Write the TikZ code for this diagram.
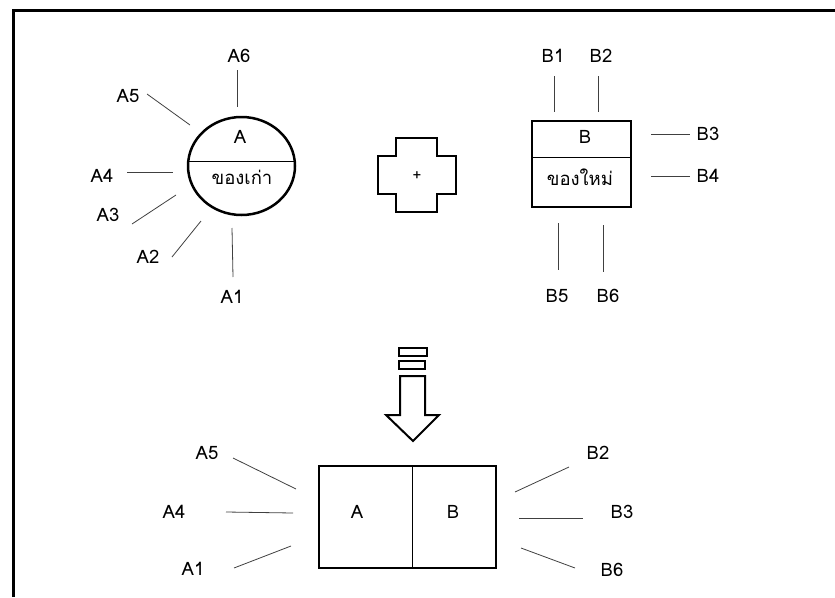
\documentclass[tikz,border=0pt]{standalone}
\usepackage{fontspec}
\setmainfont[Script=Thai]{Loma}
\usetikzlibrary{positioning,shapes.geometric}

\begin{document}
\begin{tikzpicture}[
  x=1pt, y=-1pt,
  lbl/.style={font=\fontsize{18.5}{22}\selectfont, inner sep=0pt},
  spoke/.style={line width=0.8pt, draw=black!75},
  outline/.style={line width=2.5pt},
]
\useasboundingbox (0,0) rectangle (835,597);
% frame
\draw[line width=3pt] (13,597) -- (13,10) -- (835,10);

% old part A
\node[ellipse, draw, outline, minimum width=107pt, minimum height=98pt, inner sep=0pt] (old) at (241.5,166) {};
\draw[spoke, draw=black] (188.5,161) -- (294.5,161);
\node[lbl] (oldname) at (240,137) {A};
\node[lbl] (oldtext) at (242,177) {ของเก่า};
\node[lbl] (a6) at (239,56) {A6};
\node[lbl] (a5) at (128,96) {A5};
\node[lbl] (a4) at (102,176) {A4};
\node[lbl] (a3) at (108,215) {A3};
\node[lbl] (a2) at (148,257) {A2};
\node[lbl] (a1) at (232,297) {A1};
\draw[spoke] (237,70) -- (237,107);
\draw[spoke] (147,94) -- (190,125);
\draw[spoke] (127,172) -- (173,172);
\draw[spoke] (132,224) -- (176,195);
\draw[spoke] (172,257) -- (201,221);
\draw[spoke] (233,277) -- (232,228);

% plus sign
\draw[outline] (396,138) -- (437,138) -- (437,156) -- (456,156) -- (456,194)
  -- (437,194) -- (437,212) -- (396,212) -- (396,194) -- (378,194)
  -- (378,156) -- (396,156) -- cycle;
\node[lbl, font=\fontsize{15}{17}\selectfont] (plus) at (417,176) {+};

% new part B
\node[rectangle, draw, outline, minimum width=99pt, minimum height=86pt, inner sep=0pt] (new) at (581.5,164) {};
\draw[spoke, draw=black] (532,157) -- (631,157);
\node[lbl] (newname) at (585,137) {B};
\node[lbl] (newtext) at (580,177) {ของใหม่};
\node[lbl] (b1) at (553,56) {B1};
\node[lbl] (b2) at (601,56) {B2};
\node[lbl] (b3) at (708,134) {B3};
\node[lbl] (b4) at (708,176) {B4};
\node[lbl] (b5) at (557,296) {B5};
\node[lbl] (b6) at (608,296) {B6};
\draw[spoke] (554,76) -- (554,112);
\draw[spoke] (598,76) -- (598,112);
\draw[spoke] (651,134) -- (690,134);
\draw[spoke] (651,176) -- (690,176);
\draw[spoke] (558,223) -- (558,270);
\draw[spoke] (603,225) -- (603,272);

% arrow down
\draw[outline, line width=2pt] (399,348) rectangle (427,356);
\draw[outline, line width=2pt] (399,361) rectangle (425,369);
\draw[outline, line width=2pt] (400,376) -- (425,376) -- (425,415) -- (439,415)
  -- (413,441) -- (386,415) -- (400,415) -- cycle;

% merged part
\node[rectangle, draw, outline, minimum width=177pt, minimum height=102pt, inner sep=0pt] (merged) at (407.5,517) {};
\draw[spoke, draw=black] (412,466) -- (412,568);
\node[lbl] (mA) at (357,512) {A};
\node[lbl] (mB) at (453,512) {B};
\node[lbl] (ma5) at (207,453) {A5};
\node[lbl] (ma4) at (174,512) {A4};
\node[lbl] (ma1) at (193,569) {A1};
\node[lbl] (mb2) at (598,453) {B2};
\node[lbl] (mb3) at (622,512) {B3};
\node[lbl] (mb6) at (612,570) {B6};
\draw[spoke] (233,458) -- (296,489);
\draw[spoke] (226,512) -- (293,513);
\draw[spoke] (234,568) -- (291,546);
\draw[spoke] (515,492) -- (569,467);
\draw[spoke] (519,518) -- (583,518);
\draw[spoke] (521,548) -- (575,568);
\end{tikzpicture}
\end{document}
